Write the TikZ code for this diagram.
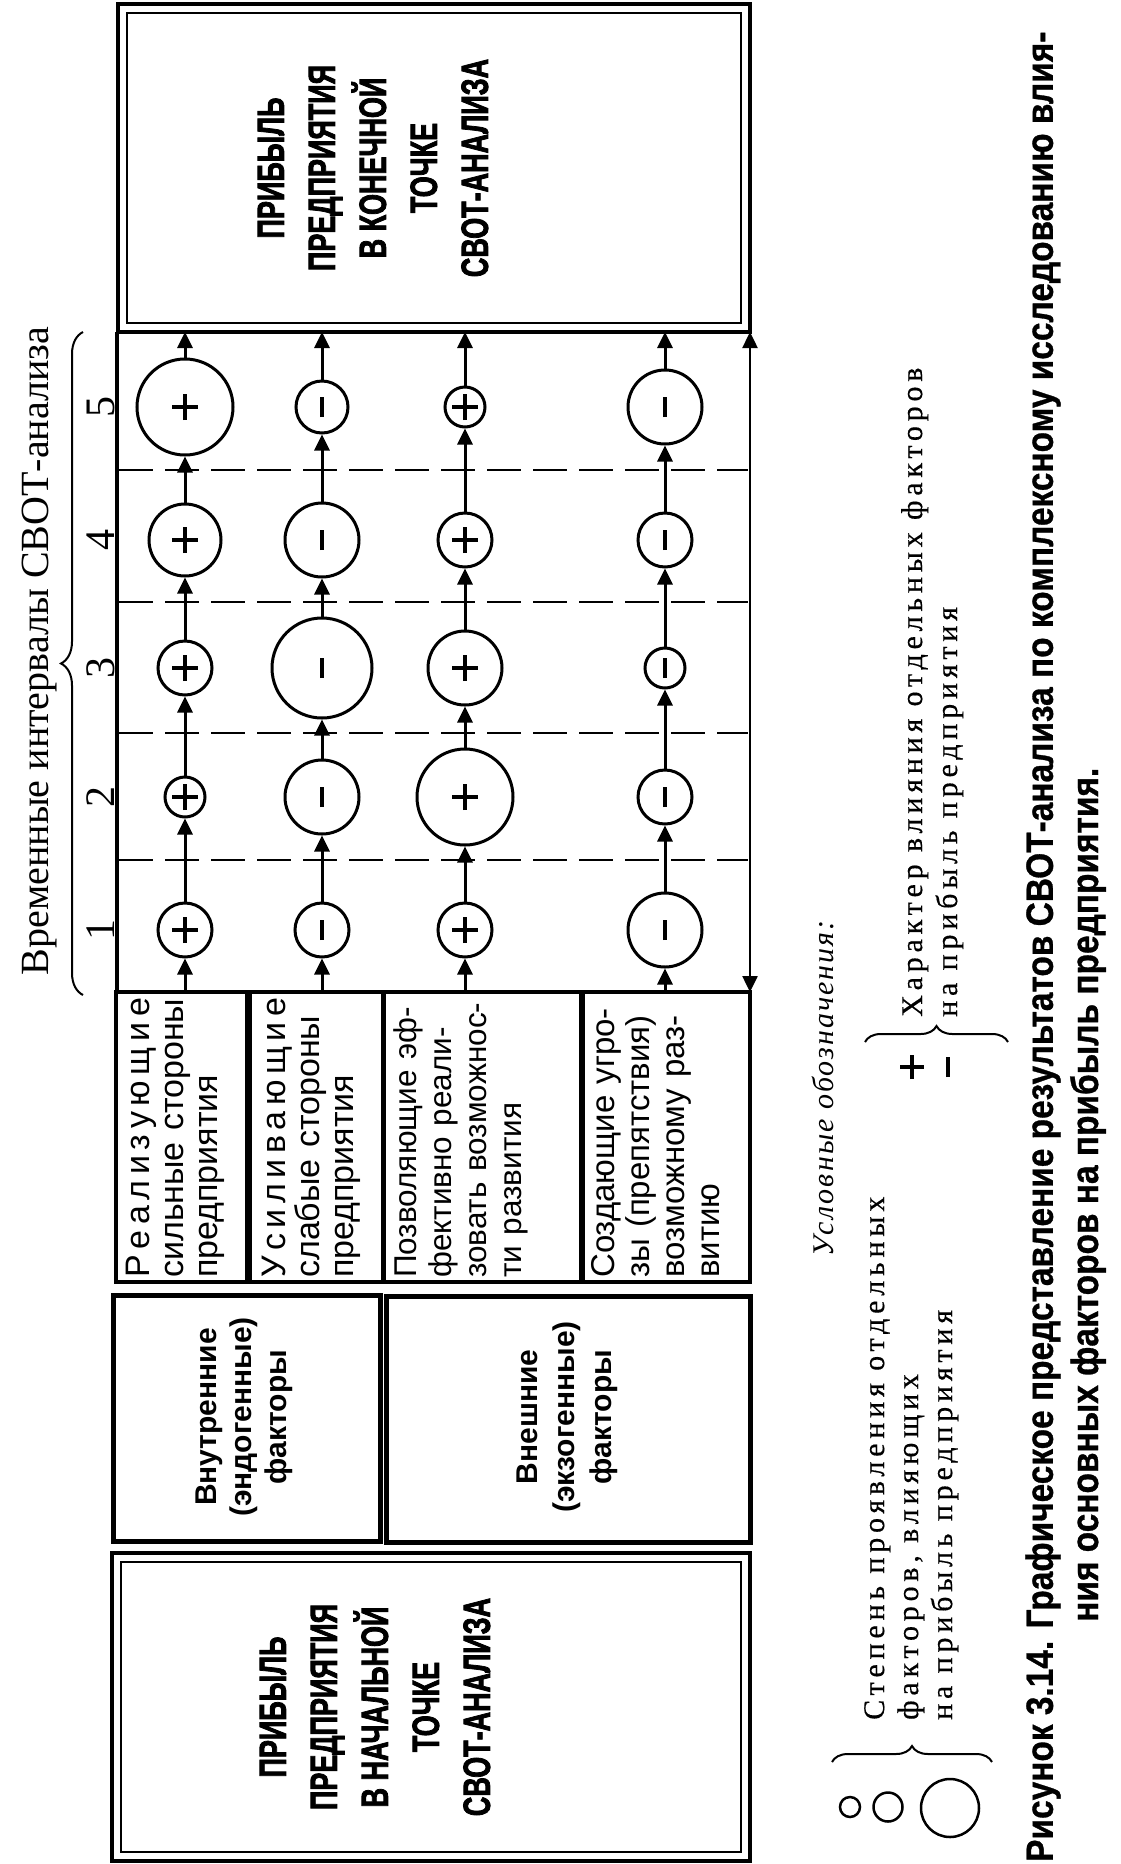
\documentclass[tikz,border=0pt]{standalone}
\usepackage{fontspec}
\setmainfont{Liberation Serif}
\newfontfamily\sansf{Liberation Sans}
\newfontfamily\condf[FakeStretch=0.71,FakeBold=2]{Liberation Sans}
\newfontfamily\capf[FakeStretch=0.88,FakeBold=0.8]{Liberation Sans}
\newfontfamily\typef[LetterSpace=16,FakeBold=0.4]{Liberation Serif}
\newfontfamily\itf[LetterSpace=7]{Liberation Serif}
\usetikzlibrary{arrows.meta,decorations.pathreplacing}
\newcommand\fs[2]{\fontsize{#1}{#2}\selectfont}
\newcommand\jl[1]{\makebox[\linewidth][s]{#1}}
\begin{document}
\begin{tikzpicture}[x=1pt,y=-1pt,
  bigframe/.style={line width=4pt},
  innerframe/.style={line width=1.5pt},
  crc/.style={circle,draw,line width=3pt,inner sep=0pt},
  sgn/.style={line width=3.5pt},
  msgn/.style={line width=4.5pt},
  arr/.style={line width=3pt,-{Triangle[length=16pt,width=15pt]}},
  arrtwo/.style={line width=2.5pt,{Triangle[length=16pt,width=15pt]}-{Triangle[length=16pt,width=15pt]}},
  dsh/.style={line width=1.8pt,dash pattern=on 34pt off 12pt},
  brc/.style={line width=2pt,decorate},
  rtext/.style={rotate=90,inner sep=0pt},
  fbtext/.style={rotate=90,anchor=north west,align=left,inner sep=0pt}
]
\useasboundingbox (0,0) rectangle (1120,1864);

% ---------- top box (end point)
\draw[bigframe] (118,4) rectangle (750,332);
\draw[innerframe] (127,13) rectangle (741,323);
\node[rtext,align=center,font=\condf\bfseries\fs{38}{51}] (endt) at (373,168)
  {ПРИБЫЛЬ\\ПРЕДПРИЯТИЯ\\В КОНЕЧНОЙ\\ТОЧКЕ\\СВОТ-АНАЛИЗА};

% ---------- grid
\draw[line width=4pt] (117,332) -- (117,992);
\foreach \yy in {470,602,733,860} \draw[dsh] (119,\yy) -- (748,\yy);

% ---------- factor boxes
\draw[line width=3.5pt] (116,992) rectangle (750,1282);
\draw[line width=7pt] (248,992) -- (248,1282);
\draw[line width=5pt] (383,992) -- (383,1282);
\draw[line width=6pt] (582,992) -- (582,1282);

\node[fbtext,text width=280pt,font=\sansf\fs{34}{34}] (f1) at (126,1278)
  {\jl{Р\hfil е\hfil а\hfil л\hfil и\hfil з\hfil у\hfil ю\hfil щ\hfil и\hfil е}\\\jl{сильные стороны}\\предприятия};
\node[fbtext,text width=280pt,font=\sansf\fs{34}{34}] (f2) at (262,1278)
  {\jl{У\hfil с\hfil и\hfil л\hfil и\hfil в\hfil а\hfil ю\hfil щ\hfil и\hfil е}\\\jl{слабые стороны}\\предприятия};
\node[fbtext,text width=280pt,font=\sansf\fs{31.5}{35}] (f3) at (393,1278)
  {\jl{Позволяющие эф-}\\\jl{фективно реали-}\\\jl{зовать возможнос-}\\ти развития};
\node[fbtext,text width=282pt,font=\sansf\fs{33}{35}] (f4) at (591,1278)
  {\jl{Создающие угро-}\\\jl{зы (препятствия)}\\\jl{возможному раз-}\\витию};

% ---------- factor group boxes
\draw[line width=5pt] (113,1295) rectangle (380,1541);
\draw[line width=5pt] (386,1296) rectangle (750,1542);
\node[rtext,align=center,font=\sansf\bfseries\fs{30}{35}] (g1) at (244,1417)
  {Внутренние\\(эндогенные)\\факторы};
\node[rtext,align=center,font=\sansf\bfseries\fs{30}{37}] (g2) at (567,1417)
  {Внешние\\(экзогенные)\\факторы};

% ---------- bottom box (start point)
\draw[bigframe] (112,1553) rectangle (750,1861);
\draw[innerframe] (121,1562) rectangle (741,1852);
\node[rtext,align=center,font=\condf\bfseries\fs{38}{51}] (startt) at (375,1707)
  {ПРИБЫЛЬ\\ПРЕДПРИЯТИЯ\\В НАЧАЛЬНОЙ\\ТОЧКЕ\\СВОТ-АНАЛИЗА};

% ---------- connector end points
\foreach \r/\xx in {1/185,2/322,3/465,4/665}{
  \coordinate (fb\r) at (\xx,992);
  \coordinate (tb\r) at (\xx,332);
}
\coordinate (ra) at (750,992);
\coordinate (rb) at (750,332);

% ---------- circles: name/x/y/radius
\foreach \nm/\xx/\yy/\rad in {
  n11/185/930/27, n12/185/797/20, n13/185/668/27, n14/185/540/36, n15/185/407/48,
  n31/465/930/27, n32/465/797/48, n33/465/668/37, n34/465/540/27, n35/465/407/20}{
  \node[crc,minimum size=2*\rad] (\nm) at (\xx,\yy) {};
  \draw[sgn] ([xshift=-13pt]\nm.center) -- ([xshift=13pt]\nm.center)
             ([yshift=-13pt]\nm.center) -- ([yshift=13pt]\nm.center);
}
\foreach \nm/\xx/\yy/\rad in {
  n21/322/930/27, n22/322/797/37, n23/322/668/50, n24/322/540/37, n25/322/407/26,
  n41/665/930/37, n42/665/797/27, n43/665/668/20, n44/665/540/27, n45/665/407/37}{
  \node[crc,minimum size=2*\rad] (\nm) at (\xx,\yy) {};
  \draw[msgn] ([yshift=-10pt]\nm.center) -- ([yshift=10pt]\nm.center);
}

% ---------- arrows
\foreach \r in {1,2,3,4}{
  \draw[arr] (fb\r) -- (n\r1);
  \draw[arr] (n\r1) -- (n\r2);
  \draw[arr] (n\r2) -- (n\r3);
  \draw[arr] (n\r3) -- (n\r4);
  \draw[arr] (n\r4) -- (n\r5);
  \draw[arr] (n\r5) -- (tb\r);
}
\draw[arrtwo] (ra) -- (rb);

% ---------- interval labels
\coordinate (bi1) at (83,995);
\coordinate (bi2) at (83,332);
\draw[brc,decoration={brace,amplitude=22pt}] (bi1) -- (bi2);
\node[rtext,font=\fs{40}{40}] (lab) at (40,651) {Временные интервалы СВОТ-анализа};
\foreach \d/\yy in {1/930,2/797,3/668,4/540,5/407}
  \node[rtext,font=\fs{42}{42}] (d\d) at (101,\yy) {\d};

% ---------- legend
\node[rtext,font=\itf\itshape\fs{30}{34}] (leg) at (823,1088) {Условные обозначения:};

\node[crc,line width=2.5pt,minimum size=20] (lc1) at (850,1807) {};
\node[crc,line width=2.5pt,minimum size=29] (lc2) at (888,1807) {};
\node[crc,line width=2.5pt,minimum size=58] (lc3) at (950,1808) {};
\coordinate (lb1) at (832,1762);
\coordinate (lb2) at (992,1762);
\draw[brc,decoration={brace,amplitude=16pt}] (lb1) -- (lb2);
\node[fbtext,font=\typef\fs{30}{34}] (legc) at (864,1720)
  {Степень проявления отдельных\\факторов, влияющих\\на прибыль предприятия};

\coordinate (lp) at (912,1067);
\coordinate (lm) at (948,1067);
\draw[sgn] ([xshift=-12pt]lp) -- ([xshift=12pt]lp) ([yshift=-12pt]lp) -- ([yshift=12pt]lp);
\draw[msgn] ([yshift=-10pt]lm) -- ([yshift=10pt]lm);
\coordinate (lb3) at (865,1042);
\coordinate (lb4) at (1008,1042);
\draw[brc,decoration={brace,amplitude=16pt}] (lb3) -- (lb4);
\node[fbtext,font=\typef\fs{30}{35}] (legs) at (901,1017)
  {Характер влияния отдельных факторов\\на прибыль предприятия};

% ---------- caption
\node[rtext,anchor=west,font=\capf\bfseries\fs{38}{45}] (cap1) at (1043,1862)
  {Рисунок 3.14. Графическое представление результатов СВОТ-анализа по комплексному исследованию влия-};
\node[rtext,anchor=west,font=\capf\bfseries\fs{38}{45}] (cap2) at (1088,1622)
  {ния основных факторов на прибыль предприятия.};
\end{tikzpicture}
\end{document}
